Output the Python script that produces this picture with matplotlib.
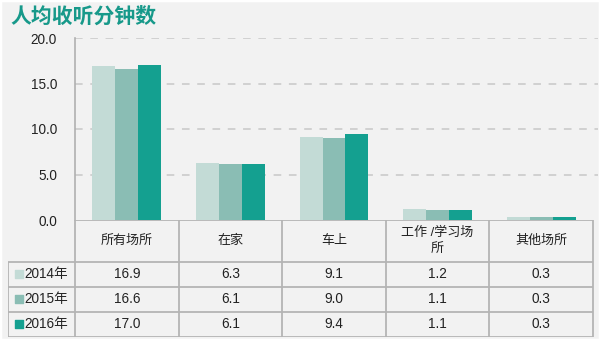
import matplotlib
matplotlib.use("Agg")
import matplotlib.pyplot as plt
from matplotlib.patches import Rectangle
import numpy as np

plt.rcParams['font.family'] = ['Liberation Sans', 'Noto Sans CJK SC', 'DejaVu Sans']

# data
categories = ["所有场所", "在家", "车上", "工作 /学习场\n所", "其他场所"]
years = ["2014年", "2015年", "2016年"]
v2014 = [16.9, 6.3, 9.1, 1.2, 0.3]
v2015 = [16.6, 6.1, 9.0, 1.1, 0.3]
v2016 = [17.0, 6.1, 9.4, 1.1, 0.3]
yticks = [0.0, 5.0, 10.0, 15.0, 20.0]
colors = ["#c3dbd6", "#8abdb4", "#14a090"]
series = [v2014, v2015, v2016]

W, H = 600, 340
fig = plt.figure(figsize=(6, 3.4), dpi=100, facecolor="#f2f2f2")
fig.patches.append(Rectangle((0, 0), 1, 1, transform=fig.transFigure,
                             fill=False, edgecolor="white", lw=2.5))

col_px = 103.6       # width of one category column in pixels
x0_px = 75           # left of first category column
right_px = 598
xmax = -0.5 + (right_px - x0_px) / col_px

# bar chart
ax = fig.add_axes([x0_px / W, (H - 220) / H, (right_px - x0_px) / W, (220 - 38) / H])
ax.set_facecolor("none")
x = np.arange(len(categories))
bw = 0.222
for i, (vals, c) in enumerate(zip(series, colors)):
    ax.bar(x + (i - 1) * bw, vals, width=bw, color=c, zorder=3)
ax.set_xlim(-0.5, xmax)
ax.set_ylim(0, 20)
ax.set_yticks(yticks)
ax.set_yticklabels([f"{t:.1f}" for t in yticks], fontsize=9.8, color="#222222")
ax.set_xticks([])
ax.tick_params(axis="y", length=0, pad=13)
ax.yaxis.grid(True, color="#c8c8c8", linestyle=(0, (5, 5)), lw=1.1, zorder=0)
ax.yaxis.get_gridlines()[0].set_visible(False)
for s in ["top", "right", "bottom"]:
    ax.spines[s].set_visible(False)
ax.spines["left"].set_color("#b0b0b0")
ax.spines["left"].set_linewidth(1.2)

# data table below
tl_px, tb_px, tt_px = 8, 336.5, 220
ax2 = fig.add_axes([tl_px / W, (H - tb_px) / H, (right_px - tl_px) / W, (tb_px - tt_px) / H])
ax2.set_facecolor("none")
xl = -0.5 - (x0_px - tl_px) / col_px
hdr = 1.68
ax2.set_xlim(xl, xmax)
ax2.set_ylim(0, 3 + hdr)
ax2.axis("off")
lc, lw = "#b4b4b4", 1.3
xr = len(categories) - 0.5
ax2.hlines([0, 1, 2, 3], xl, xr, color=lc, lw=lw)
ax2.hlines(3 + hdr, -0.5, xr, color=lc, lw=lw)
ax2.vlines(xl, 0, 3, color=lc, lw=lw)
ax2.vlines(np.arange(len(categories) + 1) - 0.5, 0, 3 + hdr, color=lc, lw=lw)

for j, cat in enumerate(categories):
    ax2.text(j, 3 + hdr / 2, cat, ha="center", va="center", fontsize=9.4,
             color="#222222", linespacing=1.5)
for i, (yr, vals, c) in enumerate(zip(years, series, colors)):
    yc = 2.5 - i
    ax2.scatter([xl + 11 / col_px], [yc], marker="s", s=36, color=c)
    ax2.text(xl + 16 / col_px, yc, yr, ha="left", va="center", fontsize=9.8, color="#222222")
    for j, v in enumerate(vals):
        ax2.text(j, yc, f"{v:.1f}", ha="center", va="center", fontsize=9.8, color="#222222")

fig.text(10 / W, 1 - 17 / H, "人均收听分钟数", ha="left", va="center", fontsize=15,
         fontweight="bold", color="#17998a")

fig.savefig("out.png", dpi=100, facecolor=fig.get_facecolor())
